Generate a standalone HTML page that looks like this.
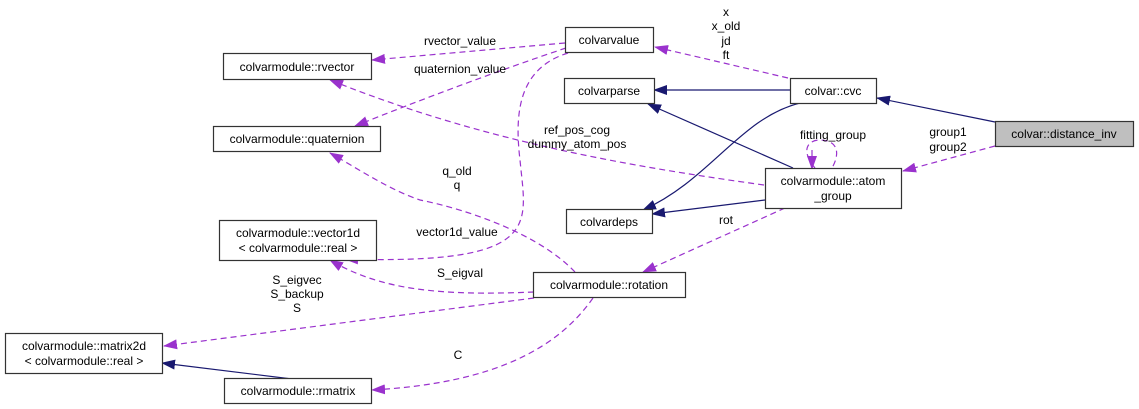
<!DOCTYPE html>
<html><head><meta charset="utf-8"><style>
html,body{margin:0;padding:0;background:#fff}
svg{display:block}
text{font-family:"Liberation Sans",sans-serif;font-size:12px;fill:#000}
</style></head><body>
<svg width="1139" height="409" viewBox="0 0 1139 409" xmlns="http://www.w3.org/2000/svg">
<defs>
<marker id="p" markerWidth="14" markerHeight="10" refX="13" refY="5" orient="auto" markerUnits="userSpaceOnUse"><path d="M0,0 L14,5 L0,10 z" fill="#9a32cd"/></marker>
<marker id="n" markerWidth="14" markerHeight="10" refX="13" refY="5" orient="auto" markerUnits="userSpaceOnUse"><path d="M0,0 L14,5 L0,10 z" fill="#191970"/></marker>
</defs>
<g fill="none" stroke="#9a32cd" stroke-width="1.2" stroke-dasharray="6,4">
<path d="M995,146 L903,171" marker-end="url(#p)"/>
<path d="M788,78 L655,47" marker-end="url(#p)"/>
<path d="M815,168 C800,150 808,140 820,140 C835,140 842,150 832,168"/>
<path d="M812,150 L812,169" marker-end="url(#p)"/>
<path d="M764,185 C620,165 480,140 330,80" marker-end="url(#p)"/>
<path d="M785,208 L643,272" marker-end="url(#p)"/>
<path d="M565,43 L372,60" marker-end="url(#p)"/>
<path d="M566,48 C500,70 420,100 355,126" marker-end="url(#p)"/>
<path d="M568,53 C520,68 514,110 520,160 C526,225 545,265 345,259" marker-end="url(#p)"/>
<path d="M575,272 C540,235 470,210 420,200 C390,190 360,170 330,153" marker-end="url(#p)"/>
<path d="M534,292 C440,296 380,290 330,260" marker-end="url(#p)"/>
<path d="M534,298 L164,346" marker-end="url(#p)"/>
<path d="M593,298 C560,345 500,383 372,390" marker-end="url(#p)"/>
</g>
<g fill="none" stroke="#191970" stroke-width="1.2">
<path d="M995,122 L877,98" marker-end="url(#n)"/>
<path d="M790,90 L654,90" marker-end="url(#n)"/>
<path d="M800,103 C740,118 710,180 643,210" marker-end="url(#n)"/>
<path d="M793,168 L648,104" marker-end="url(#n)"/>
<path d="M765,200 L652,214" marker-end="url(#n)"/>
<path d="M292,379 L162,363" marker-end="url(#n)"/>
</g>
<g stroke="#333" stroke-width="1.2" fill="#fff">
<rect x="223.5" y="53.5" width="148" height="26"/>
<rect x="213.5" y="126.5" width="167" height="25"/>
<rect x="565.5" y="27.5" width="88" height="25"/>
<rect x="564.5" y="78.5" width="90" height="25"/>
<rect x="566.5" y="209.5" width="86" height="24"/>
<rect x="790.5" y="78.5" width="86" height="25"/>
<rect x="995.5" y="121.5" width="138" height="25" fill="#bfbfbf"/>
<rect x="765.5" y="168.5" width="136" height="40"/>
<rect x="219.5" y="220.5" width="157" height="40"/>
<rect x="533.5" y="272.5" width="152" height="25"/>
<rect x="5.5" y="333.5" width="157" height="40"/>
<rect x="224.5" y="378.5" width="147" height="25"/>
</g>
<g text-anchor="middle">
<text x="297" y="71">colvarmodule::rvector</text>
<text x="297" y="143">colvarmodule::quaternion</text>
<text x="609" y="44">colvarvalue</text>
<text x="609" y="95">colvarparse</text>
<text x="609" y="226">colvardeps</text>
<text x="833" y="95">colvar::cvc</text>
<text x="1064" y="138">colvar::distance_inv</text>
<text x="833" y="185">colvarmodule::atom</text>
<text x="833" y="200">_group</text>
<text x="298" y="237">colvarmodule::vector1d</text>
<text x="298" y="252">&lt; colvarmodule::real &gt;</text>
<text x="609" y="289">colvarmodule::rotation</text>
<text x="84" y="350">colvarmodule::matrix2d</text>
<text x="84" y="365">&lt; colvarmodule::real &gt;</text>
<text x="298" y="395">colvarmodule::rmatrix</text>
<text x="726" y="16">x</text>
<text x="726" y="30">x_old</text>
<text x="726" y="45">jd</text>
<text x="726" y="59">ft</text>
<text x="460" y="45">rvector_value</text>
<text x="460" y="73">quaternion_value</text>
<text x="577" y="134">ref_pos_cog</text>
<text x="577" y="148">dummy_atom_pos</text>
<text x="833" y="139">fitting_group</text>
<text x="948" y="136">group1</text>
<text x="948" y="151">group2</text>
<text x="457" y="175">q_old</text>
<text x="457" y="189">q</text>
<text x="457" y="236">vector1d_value</text>
<text x="726" y="224">rot</text>
<text x="460" y="277">S_eigval</text>
<text x="297" y="284">S_eigvec</text>
<text x="297" y="298">S_backup</text>
<text x="297" y="312">S</text>
<text x="458" y="359">C</text>
</g>
</svg>
</body></html>
